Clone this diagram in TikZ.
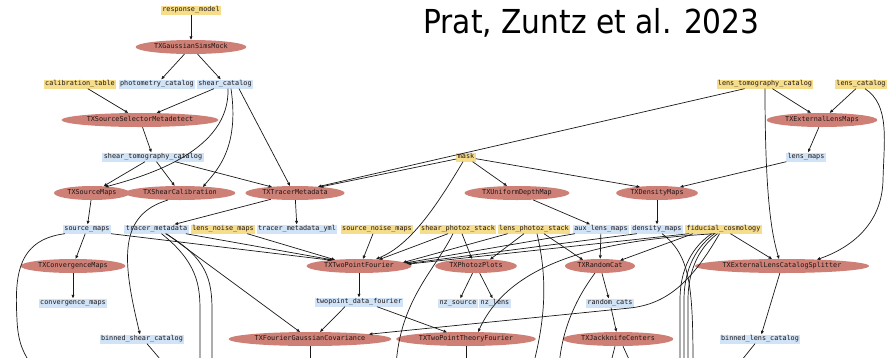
\documentclass[tikz,border=0pt]{standalone}
\usepackage{fontspec}
\usetikzlibrary{shapes.geometric,arrows.meta,calc}
\newfontfamily\monof{DejaVu Sans Mono}
\newfontfamily\titlef{DejaVu Sans}
\definecolor{ycol}{RGB}{246,221,140}
\definecolor{bcol}{RGB}{208,227,247}
\definecolor{rcol}{RGB}{206,128,118}
\definecolor{tcol}{RGB}{30,22,22}
\begin{document}
\begin{tikzpicture}[x=1pt,y=-1pt,
  lbl/.style={font=\monof\fontsize{6.8}{7}\selectfont, text=tcol},
  ybox/.style={lbl, rectangle, fill=ycol, inner xsep=1.4pt, inner ysep=0.5pt, text height=5pt, text depth=1.5pt, minimum height=9pt},
  bbox/.style={ybox, fill=bcol},
  stage/.style={lbl, ellipse, fill=rcol, inner xsep=2.3pt, inner ysep=0pt, minimum height=14pt, text height=5pt, text depth=1.5pt},
  edge/.style={draw=black!90, line width=0.7pt, -{Triangle[length=3.4pt,width=2.8pt]}},
  tail/.style={draw=black!90, line width=0.7pt}
]
\useasboundingbox (0,0) rectangle (894,357);
\clip (0,0) rectangle (894,357);
\fill[white] (0,0) rectangle (894,357);

\node[anchor=base west, inner sep=0, font=\titlef\fontsize{33}{33}\selectfont] (title) at (423,33) {\scalebox{0.9}[1]{Prat, Zuntz et al. 2023}};

% nodes
\node[ybox] (respmodel) at (191,10) {response\_model};
\node[stage] (gsm) at (191,47) {TXGaussianSimsMock};
\node[ybox] (calib) at (80,84) {calibration\_table};
\node[bbox] (photcat) at (157,84) {photometry\_catalog};
\node[bbox] (shearcat) at (225,84) {shear\_catalog};
\node[ybox] (ltc) at (765,84) {lens\_tomography\_catalog};
\node[ybox] (lenscat) at (861,84) {lens\_catalog};
\node[stage] (ssm) at (140,120) {TXSourceSelectorMetadetect};
\node[stage] (elm) at (822,120) {TXExternalLensMaps};
\node[bbox] (stc) at (153,157) {shear\_tomography\_catalog};
\node[ybox] (mask) at (466,157) {mask};
\node[bbox] (lensmaps) at (806,157) {lens\_maps};
\node[stage] (srcmaps) at (92,193) {TXSourceMaps};
\node[stage] (shearcal) at (180,193) {TXShearCalibration};
\node[stage] (tracermeta) at (295,193) {TXTracerMetadata};
\node[stage] (udm) at (517,193) {TXUniformDepthMap};
\node[stage] (densmaps) at (657,193) {TXDensityMaps};
\node[bbox] (sourcemaps) at (87,229) {source\_maps};
\node[bbox] (tm) at (156.5,229) {tracer\_metadata};
\node[ybox] (lnm) at (223,229) {lens\_noise\_maps};
\node[bbox] (tmy) at (297,229) {tracer\_metadata\_yml};
\node[ybox] (snm) at (377,229) {source\_noise\_maps};
\node[ybox] (sps) at (458,229) {shear\_photoz\_stack};
\node[ybox] (lps) at (534,229) {lens\_photoz\_stack};
\node[bbox] (alm) at (601,229) {aux\_lens\_maps};
\node[bbox] (dm) at (657,229) {density\_maps};
\node[ybox] (fc) at (723.5,229) {fiducial\_cosmology};
\node[stage] (cm) at (73,266) {TXConvergenceMaps};
\node[stage] (tpf) at (359,266) {TXTwoPointFourier};
\node[stage] (pzp) at (476,266) {TXPhotozPlots};
\node[stage] (rc) at (600,266) {TXRandomCat};
\node[stage] (elcs) at (782,266) {TXExternalLensCatalogSplitter};
\node[bbox] (convmaps) at (73,303) {convergence\_maps};
\node[bbox] (tpdf) at (359,302) {twopoint\_data\_fourier};
\node[bbox] (nzs) at (458,303) {nz\_source};
\node[bbox] (nzl) at (495,303) {nz\_lens};
\node[bbox] (randcats) at (610,303) {random\_cats};
\node[bbox] (bsc) at (142,339) {binned\_shear\_catalog};
\node[stage] (fgc) at (310,339) {TXFourierGaussianCovariance};
\node[stage] (tptf) at (466,339) {TXTwoPointTheoryFourier};
\node[stage] (jkc) at (618,339) {TXJackknifeCenters};
\node[bbox] (blc) at (760,339) {binned\_lens\_catalog};

% free ends below the frame
\coordinate (o1) at (32,366);
\coordinate (o2) at (200,366);
\coordinate (o3) at (212,366);
\coordinate (o4) at (396,366);
\coordinate (o5) at (533,366);
\coordinate (o6) at (559,366);
\coordinate (o7) at (693,366);
\coordinate (o8) at (680,366);
\coordinate (o8b) at (684,366);
\coordinate (o8c) at (688,366);
\coordinate (o9) at (310,366);
\coordinate (o10) at (466,366);
\coordinate (o11) at (610,366);
\coordinate (o12) at (632,366);
\coordinate (o13) at (737,366);
\coordinate (o14) at (166,366);

% edges: top part
\draw[edge] (respmodel) -- (gsm);
\draw[edge] (gsm) -- (photcat);
\draw[edge] (gsm) -- (shearcat);
\draw[edge] (calib) -- (ssm);
\draw[edge] (shearcat) -- (ssm);
\draw[edge] (ssm) -- (stc);
\draw[edge] (stc) -- (srcmaps);
\draw[edge] (stc) -- (shearcal);
\draw[edge] ($(stc.south)+(22,0)$) -- ($(tracermeta)+(-23,-6)$);
\draw[edge] ($(shearcat.south)+(3,0)$) .. controls (230,150) and (150,175) .. ($(srcmaps)+(13,-6)$);
\draw[edge] ($(shearcat.south)+(6,0)$) .. controls (240,150) and (215,172) .. ($(shearcal)+(23,-6)$);
\draw[edge] ($(shearcat.south)+(14,0)$) -- ($(tracermeta)+(-5,-7)$);
\draw[edge] (mask) -- ($(tracermeta)+(25,-6)$);
\draw[edge] (ltc) -- ($(tracermeta)+(23,-6.3)$);
\draw[edge] (tracermeta) -- (tm);
\draw[edge] (tracermeta) -- (tmy);
\draw[edge] ($(shearcal)+(-12,7)$) .. controls (118,215) and (122,260) .. ($(bsc.north)+(-2,0)$);
\draw[edge] (mask) -- (udm);
\draw[edge] (mask) -- ($(densmaps)+(-17,-6)$);
\draw[edge] ($(mask.south)+(-3,0)$) .. controls (440,200) and (412,245) .. ($(tpf)+(17,-7)$);
\draw[edge] (udm) -- (alm);
\draw[edge] (densmaps) -- (dm);
\draw[edge] (ltc) -- (elm);
\draw[edge] (lenscat) -- (elm);
\draw[edge] (elm) -- (lensmaps);
\draw[edge] (lensmaps) -- ($(densmaps)+(23,-6)$);
\draw[edge] (ltc.south) .. controls (765,200) and (772,235) .. ($(elcs)+(-3,-7)$);
\draw[edge] ($(lenscat.south)+(4,0)$) .. controls (890,105) and (884,140) .. (883,180) .. controls (882,225) and (850,248) .. ($(elcs)+(35,-6.4)$);
\draw[edge] ($(fc.south)+(7,0)$) -- ($(elcs)+(-10,-7)$);
\draw[edge] (elcs) -- (blc);

% middle part
\draw[edge] (srcmaps) -- (sourcemaps);
\draw[edge] (sourcemaps) -- (cm);
\draw[edge] (cm) -- (convmaps);
\draw[edge] (sourcemaps.south east) -- ($(tpf)+(-28,-5.8)$);
\draw[edge] ($(tm.south east)+(-3,0)$) -- ($(tpf)+(-26,-6)$);
\draw[edge] ($(lnm.south east)+(-8,0)$) -- ($(tpf)+(-24,-6.2)$);
\draw[edge] ($(snm.south)+(-4,0)$) -- ($(tpf)+(4,-7)$);
\draw[edge] ($(sps.south)+(-10,0)$) -- ($(tpf)+(20,-6.4)$);
\draw[edge] ($(lps.south west)+(10,0)$) -- ($(tpf)+(44,-3.5)$);
\draw[edge] ($(alm.south west)+(2,0)$) -- ($(tpf)+(46,-3)$);
\draw[edge] ($(dm.south west)+(6,0)$) -- ($(tpf)+(48,-2.4)$);
\draw[edge] ($(fc.south west)+(4,0)$) -- ($(tpf)+(49,-1.9)$);
\draw[edge] ($(sps.south)+(4,0)$) -- ($(pzp)+(-4,-7)$);
\draw[edge] ($(lps.south)+(-10,0)$) -- ($(pzp)+(14,-6.5)$);
\draw[edge] ($(lps.south)+(10,0)$) -- ($(rc)+(-17,-6)$);
\draw[edge] (alm) -- (rc);
\draw[edge] ($(fc.south west)+(8,0)$) -- ($(rc)+(20,-5.5)$);
\draw[edge] ($(fc.south)+(-8,0)$) .. controls (600,240) and (510,262) .. ($(tptf)+(12,-6.9)$);
\draw[edge] ($(fc.south)+(-4,0)$) .. controls (690,285) and (665,304) .. (630,308) -- ($(fgc)+(59,-4.8)$);

% lower part
\draw[edge] (tpf) -- (tpdf);
\draw[edge] ($(tpdf.south)+(-14,0)$) -- ($(fgc)+(10,-7)$);
\draw[edge] ($(tpdf.south)+(18,0)$) -- ($(tptf)+(-19,-6.7)$);
\draw[edge] ($(tm.south)+(10,0)$) -- ($(fgc)+(-10,-7)$);
\draw[edge] (pzp) -- (nzs);
\draw[edge] (pzp) -- (nzl);
\draw[edge] (rc) -- (randcats);
\draw[edge] (randcats) -- (jkc);

% edges leaving the frame
\draw[tail] ($(sourcemaps.south west)+(2,0)$) .. controls (15,240) and (15,280) .. (17,320) .. controls (18,345) and (25,355) .. (o1);
\draw[tail] ($(tm.south)+(5,0)$) .. controls (197,262) and (200,285) .. (200,310) -- (o2);
\draw[tail] ($(tm.south)+(9,0)$) .. controls (207,258) and (212,280) .. (212,310) -- (o3);
\draw[tail] ($(sps.south)+(-5,0)$) .. controls (435,270) and (400,300) .. (o4);
\draw[tail] ($(lps.south)+(3,0)$) .. controls (548,280) and (545,320) .. (o5);
\draw[tail] ($(rc)+(-5,7)$) .. controls (575,300) and (562,330) .. (o6);
\draw[tail] ($(dm.south)+(5,0)$) .. controls (690,255) and (693,285) .. (o7);
\draw[tail] ($(fc.south)+(-12,0)$) .. controls (688,250) and (680,275) .. (680,300) -- (o8);
\draw[tail] ($(fc.south)+(-9,0)$) .. controls (692,250) and (684,275) .. (684,300) -- (o8b);
\draw[tail] ($(fc.south)+(-6,0)$) .. controls (696,250) and (688,275) .. (688,300) -- (o8c);
\draw[tail] (fgc.south) -- (o9);
\draw[tail] (tptf.south) -- (o10);
\draw[tail] ($(jkc.south)+(-3,0)$) -- (o11);
\draw[tail] ($(jkc.south)+(5,0)$) -- (o12);
\draw[tail] ($(blc.south)+(-5,0)$) -- (o13);
\draw[tail] ($(bsc.south)+(5,0)$) -- (o14);
\end{tikzpicture}
\end{document}
